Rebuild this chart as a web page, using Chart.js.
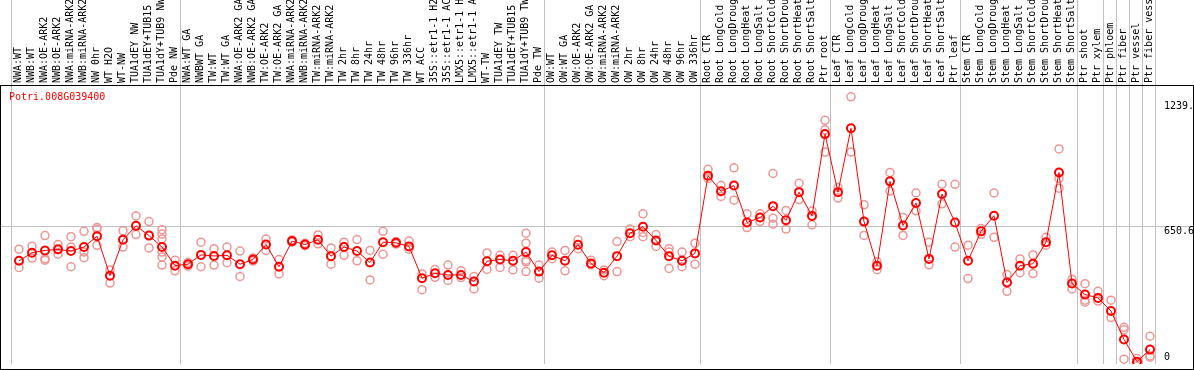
<!DOCTYPE html>
<html>
<head>
<meta charset="utf-8">
<script src="https://cdn.jsdelivr.net/npm/chart.js@4.4.1/dist/chart.umd.min.js"></script>
<style>
body { margin: 0; background: #fff; }
canvas { display: block; }
</style>
</head>
<body>
<canvas id="myChart" width="1194" height="370"></canvas>
<script>
// gene shown in the corner
const geneName = "Potri.008G039400";

// sample names, left to right
const categories = [
    "NWA:WT", "NWB:WT", "NWA:OE-ARK2", "NWB:OE-ARK2", "NWA:miRNA-ARK2", "NWB:miRNA-ARK2", "NW 0hr", "WT H2O", "WT-NW",
    "TUA1dEY NW", "TUA1dEY+TUB15 NW", "TUA1dY+TUB9 NW", "Pde NW",
    "NWA:WT GA", "NWBWT GA", "TW:WT", "TW:WT GA", "NWA:OE-ARK2 GA", "NWB:OE-ARK2 GA", "TW:OE-ARK2", "TW:OE-ARK2 GA",
    "NWA:miRNA-ARK2", "NWB:miRNA-ARK2", "TW:miRNA-ARK2", "TW:miRNA-ARK2", "TW 2hr", "TW 8hr", "TW 24hr", "TW 48hr",
    "TW 96hr", "TW 336hr", "WT ACC", "35S::etr1-1 H2O", "35S::etr1-1 ACC", "LMX5::etr1-1 H2O", "LMX5::etr1-1 ACC",
    "WT-TW", "TUA1dEY TW", "TUA1dEY+TUB15 TW", "TUA1dY+TUB9 TW", "Pde TW",
    "OW:WT", "OW:WT GA", "OW:OE-ARK2", "OW:OE-ARK2 GA", "OW:miRNA-ARK2", "OW:miRNA-ARK2", "OW 2hr", "OW 8hr",
    "OW 24hr", "OW 48hr", "OW 96hr", "OW 336hr",
    "Root CTR", "Root LongCold", "Root LongDrought", "Root LongHeat", "Root LongSalt", "Root ShortCold",
    "Root ShortDrought", "Root ShortHeat", "Root ShortSalt", "Ptr root",
    "Leaf CTR", "Leaf LongCold", "Leaf LongDrought", "Leaf LongHeat", "Leaf LongSalt", "Leaf ShortCold",
    "Leaf ShortDrought", "Leaf ShortHeat", "Leaf ShortSalt", "Ptr leaf",
    "Stem CTR", "Stem LongCold", "Stem LongDrought", "Stem LongHeat", "Stem LongSalt", "Stem ShortCold",
    "Stem ShortDrought", "Stem ShortHeat", "Stem ShortSalt",
    "Ptr shoot", "Ptr xylem", "Ptr phloem", "Ptr fiber", "Ptr vessel", "Ptr fiber vessel"
];

// mean expression per sample
const means = [
    487, 525, 536, 541, 533, 552, 603, 417, 586, 652, 606, 552, 464,
    471, 515, 510, 513, 471, 493, 564, 459, 580, 564, 586, 509, 552, 533, 479, 575, 572, 555, 405, 428, 420, 420, 389, 485, 493, 487, 528, 436,
    513, 487, 563, 474, 431, 509, 617, 648, 583, 509, 487, 522,
    889, 815, 842, 668, 691, 745, 678, 811, 699, 1085,
    811, 1113, 672, 464, 862, 654, 760, 496, 802, 668,
    487, 626, 700, 385, 464, 473, 575, 904, 380,
    328, 312, 250, 116, 11, 68
];

// single replicates per sample
const replicates = [
    [542, 456], [556, 500], [606, 497, 490], [564, 518], [601, 552, 459], [626, 528, 502], [644, 636, 560],
    [444, 382], [629, 552], [699, 611], [672, 548], [634, 613, 590, 528, 505, 467], [490, 440],
    [480, 462], [575, 459], [544, 467], [552, 478], [533, 413], [500, 486], [590, 536], [493, 425],
    [585, 575], [570, 558], [609, 567], [548, 471], [575, 513], [587, 487], [536, 397], [626, 518],
    [578, 566], [580, 542], [425, 351], [446, 409], [467, 394], [440, 408], [413, 354], [524, 446],
    [513, 456], [513, 444], [617, 570, 490, 482, 436], [467, 405],
    [528, 497], [536, 440], [586, 544], [490, 468], [444, 417], [578, 436], [637, 601], [709, 621, 601],
    [611, 555], [544, 528, 451], [528, 459], [570, 471],
    [919, 876], [842, 791], [926, 773], [709, 644], [709, 672], [899, 688, 660], [725, 637], [853, 776],
    [722, 657], [1150, 1105, 1000],
    [833, 783], [1261, 1001], [751, 607], [482, 445], [904, 816], [691, 607], [807, 723], [575, 468],
    [848, 756], [848, 552],
    [561, 403], [640, 612], [807, 598], [422, 343], [496, 431], [515, 427], [598, 561], [1015, 876, 830],
    [399, 354],
    [379, 301, 292], [343, 297], [301, 219], [173, 162, 23], [26, 3], [131, 38, 32]
];

// right hand axis
const yTicks = [0, 650.6, 1239];
const yTickLabels = ["0", "650.6", "1239."];

// a grey separator follows each of these sample counts
const groupEnds = [13, 41, 53, 63, 73, 82, 84, 85, 86, 87, 88];

const FONT = "10px 'DejaVu Sans Mono', monospace";

// build one scatter set per replicate slot
const maxReps = Math.max(...replicates.map(r => r.length));
const repSets = [];
for (let k = 0; k < maxReps; k++) {
    repSets.push({
        data: replicates.map(r => (r[k] !== undefined ? r[k] : null)),
        showLine: false,
        pointRadius: 4,
        pointBorderWidth: 1.5,
        pointBorderColor: 'rgb(236,150,150)',
        pointBackgroundColor: 'rgba(0,0,0,0)'
    });
}

const frame = {
    id: 'frame',
    beforeDatasetsDraw(chart) {
        const ctx = chart.ctx;
        const x = chart.scales.x;
        const y = chart.scales.y;
        const bottom = chart.chartArea.bottom;
        ctx.save();
        ctx.fillStyle = '#c0c0c0';
        // separators between sample groups
        ctx.fillRect(Math.round(x.getPixelForValue(0) - 8), 0, 1, bottom);
        groupEnds.forEach(n => {
            ctx.fillRect(Math.round(x.getPixelForValue(n - 1) + 5), 0, 1, bottom);
        });
        // middle gridline
        ctx.fillRect(0, Math.round(y.getPixelForValue(yTicks[1])), chart.width, 1);
        // black frame
        ctx.fillStyle = '#000';
        ctx.fillRect(0, 85, chart.width, 1);
        ctx.fillRect(0, 85, 1, chart.height - 85);
        ctx.fillRect(chart.width - 1, 85, 1, chart.height - 85);
        ctx.fillRect(0, chart.height - 1, chart.width, 1);
        ctx.restore();
    },
    afterDraw(chart) {
        const ctx = chart.ctx;
        const x = chart.scales.x;
        const y = chart.scales.y;
        ctx.save();
        ctx.font = FONT;
        // sample names, rotated
        ctx.fillStyle = '#000';
        ctx.textAlign = 'left';
        ctx.textBaseline = 'middle';
        categories.forEach((c, i) => {
            ctx.save();
            ctx.translate(x.getPixelForValue(i) - 1, 83);
            ctx.rotate(-Math.PI / 2);
            ctx.fillText(c, 0, 0);
            ctx.restore();
        });
        // value labels on the right
        yTicks.forEach((t, i) => {
            let py = y.getPixelForValue(t) + 5;
            if (py > chart.chartArea.bottom - 6) py = chart.chartArea.bottom - 7;
            ctx.fillText(yTickLabels[i], 1164, py);
        });
        // gene name
        ctx.fillStyle = '#ff0000';
        ctx.fillText(geneName, 9, 97);
        ctx.restore();
    }
};

const ctx = document.getElementById('myChart').getContext('2d');
const myChart = new Chart(ctx, {
    type: 'line',
    data: {
        labels: categories,
        datasets: [{
            data: means,
            borderColor: '#ff0000',
            borderWidth: 1,
            pointRadius: 4,
            pointBorderWidth: 2,
            pointBorderColor: '#ff0000',
            pointBackgroundColor: 'rgba(0,0,0,0)',
            tension: 0
        }].concat(repSets)
    },
    options: {
        responsive: false,
        animation: false,
        devicePixelRatio: 1,
        layout: { padding: { left: 12.5, right: 37.5, top: 86, bottom: 1 } },
        plugins: { legend: { display: false }, tooltip: { enabled: false } },
        scales: {
            x: { type: 'category', offset: true, display: false },
            y: { min: 0, max: 1312, display: false }
        }
    },
    plugins: [frame]
});
</script>
</body>
</html>
